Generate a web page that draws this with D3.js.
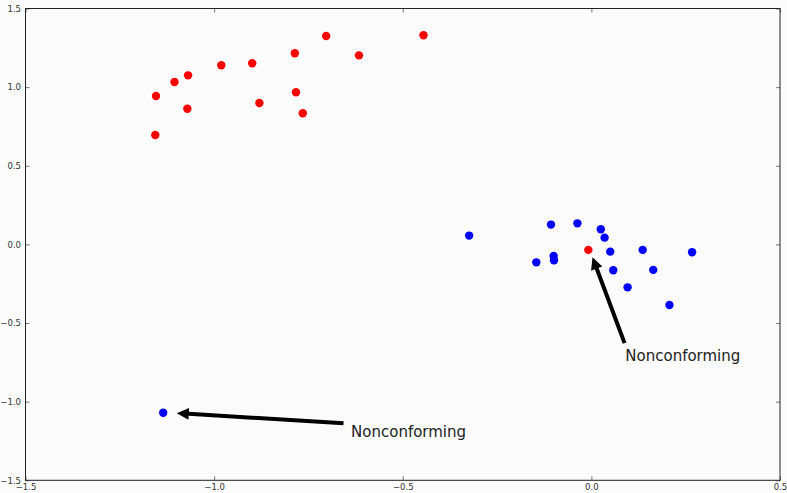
<!DOCTYPE html>
<html><head><meta charset="utf-8">
<script src="https://cdn.jsdelivr.net/npm/d3@7"></script>
<style>
html,body{margin:0;padding:0;background:#fbfbfb;}
svg{display:block;}
text{font-family:"DejaVu Sans",sans-serif;}
</style></head>
<body>
<script>
// ---- data ----
const redX = [-1.154,-1.105,-1.069,-0.981,-0.899,-0.786,-0.703,-0.616,-0.445,-0.783,-0.880,-0.765,-1.071,-1.156,-0.008];
const redY = [0.944,1.033,1.075,1.139,1.152,1.215,1.325,1.202,1.330,0.967,0.899,0.834,0.863,0.696,-0.035];
const blueX = [-0.324,-0.107,-0.037,0.025,0.035,-0.146,-0.100,-0.099,0.050,0.136,0.267,0.058,0.164,0.096,0.207,-1.135];
const blueY = [0.056,0.126,0.134,0.096,0.043,-0.114,-0.073,-0.101,-0.046,-0.035,-0.050,-0.164,-0.162,-0.273,-0.385,-1.070];
const xTicks = [-1.5,-1.0,-0.5,0.0,0.5];
const yTicks = [-1.5,-1.0,-0.5,0.0,0.5,1.0,1.5];
const annLabels = ["Nonconforming","Nonconforming"];
const annTip = [[0.003,-0.082],[-1.099,-1.073]];
const annTail = [[0.088,-0.628],[-0.657,-1.137]];
const annText = [[0.090,-0.739],[-0.637,-1.222]];

// ---- layout ----
const W = 787, H = 493;
const x0 = 25.5, x1 = 780, y0 = 8.5, y1 = 480.3;
const svg = d3.select("body").append("svg").attr("width", W).attr("height", H);
const x = d3.scaleLinear().domain([-1.5, 0.5]).range([x0, x1]);
const y = d3.scaleLinear().domain([-1.5, 1.5]).range([y1, y0]);
const fmt = d => d3.format(".1f")(d).replace("-", "\u2212");

svg.append("rect").attr("x", x0).attr("y", y0).attr("width", x1 - x0).attr("height", y1 - y0)
  .attr("fill", "#fbfbfb");

// axes with inward ticks
const tickLen = 4;
svg.append("g").attr("transform", `translate(0,${y1})`)
  .call(d3.axisBottom(x).tickValues(xTicks).tickFormat(fmt).tickSizeInner(-tickLen).tickSizeOuter(0).tickPadding(3.5))
  .call(g => { g.select(".domain").remove(); g.selectAll("line").attr("stroke", "#777");
               g.selectAll("text").attr("font-size", "8.5px").attr("fill", "#333"); });
svg.append("g").attr("transform", `translate(0,${y0})`)
  .call(d3.axisTop(x).tickValues(xTicks).tickFormat("").tickSizeInner(-tickLen).tickSizeOuter(0))
  .call(g => { g.select(".domain").remove(); g.selectAll("line").attr("stroke", "#777"); });
svg.append("g").attr("transform", `translate(${x0},0)`)
  .call(d3.axisLeft(y).tickValues(yTicks).tickFormat(fmt).tickSizeInner(-tickLen).tickSizeOuter(0).tickPadding(4.5))
  .call(g => { g.select(".domain").remove(); g.selectAll("line").attr("stroke", "#777");
               g.selectAll("text").attr("font-size", "8.5px").attr("fill", "#333"); });
svg.append("g").attr("transform", `translate(${x1},0)`)
  .call(d3.axisRight(y).tickValues(yTicks).tickFormat("").tickSizeInner(-tickLen).tickSizeOuter(0))
  .call(g => { g.select(".domain").remove(); g.selectAll("line").attr("stroke", "#777"); });

svg.append("rect").attr("x", x0).attr("y", y0).attr("width", x1 - x0).attr("height", y1 - y0)
  .attr("fill", "none").attr("stroke", "#222").attr("stroke-width", 1);

// points
svg.append("g").selectAll("circle").data(redX.map((v, i) => [v, redY[i]])).join("circle")
  .attr("cx", d => x(d[0])).attr("cy", d => y(d[1])).attr("r", 4.2).attr("fill", "#ff0000");
svg.append("g").selectAll("circle").data(blueX.map((v, i) => [v, blueY[i]])).join("circle")
  .attr("cx", d => x(d[0])).attr("cy", d => y(d[1])).attr("r", 4.2).attr("fill", "#0000ff");

// annotations
const headLen = 12, headW = 12, tailW = 4;
annLabels.forEach((lab, i) => {
  const tx = x(annTail[i][0]), ty = y(annTail[i][1]);
  const hx = x(annTip[i][0]), hy = y(annTip[i][1]);
  const dx = hx - tx, dy = hy - ty, L = Math.hypot(dx, dy);
  const ux = dx / L, uy = dy / L, nx = -uy, ny = ux;
  const bx = hx - ux * headLen, by = hy - uy * headLen;
  const pts = [
    [tx + nx * tailW / 2, ty + ny * tailW / 2],
    [bx + nx * tailW / 2, by + ny * tailW / 2],
    [bx + nx * headW / 2, by + ny * headW / 2],
    [hx, hy],
    [bx - nx * headW / 2, by - ny * headW / 2],
    [bx - nx * tailW / 2, by - ny * tailW / 2],
    [tx - nx * tailW / 2, ty - ny * tailW / 2]
  ];
  svg.append("polygon").attr("points", pts.map(p => p.join(",")).join(" ")).attr("fill", "#000");
  svg.append("text").attr("x", x(annText[i][0])).attr("y", y(annText[i][1]))
    .attr("font-size", "15px").attr("fill", "#222").text(lab);
});
</script>
</body></html>
